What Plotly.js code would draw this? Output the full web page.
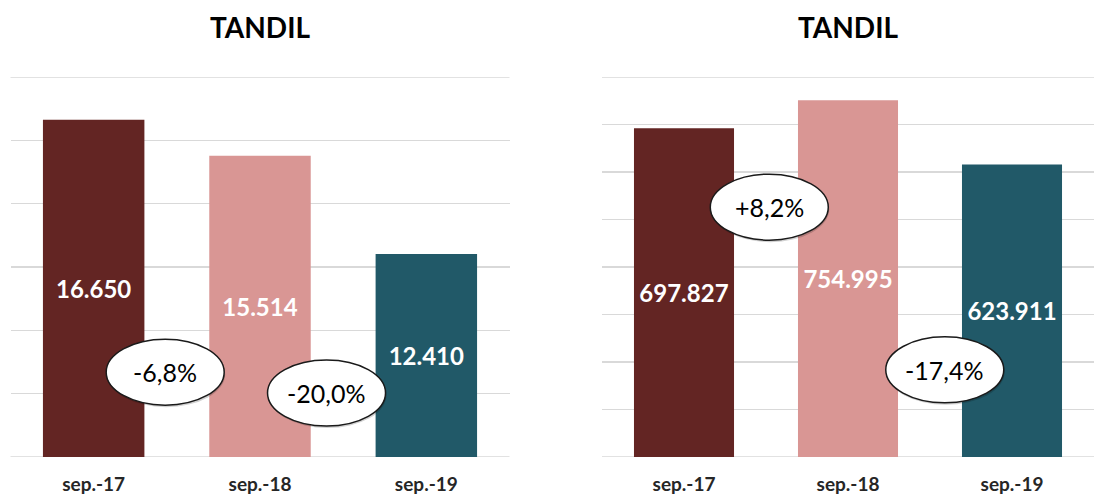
<!DOCTYPE html>
<html>
<head>
<meta charset="utf-8">
<script src="https://cdn.plot.ly/plotly-3.0.1.min.js"></script>
<style>html,body{margin:0;padding:0;background:#fff;}#chart{width:1096px;height:502px;}</style>
</head>
<body>
<div id="chart"></div>
<script>
// ---- data ----
const categories = ['sep.-17', 'sep.-18', 'sep.-19'];
const leftTitle = 'TANDIL';
const rightTitle = 'TANDIL';
const leftValues = [16650, 15514, 12410];
const rightValues = [697827, 754995, 623911];
const leftChanges = ['-6,8%', '-20,0%'];
const rightChanges = ['+8,2%', '-17,4%'];

// ---- axes (as in the reference: not starting at zero) ----
const leftAxis = {min: 6000, max: 18000, step: 2000};
const rightAxis = {min: 27220, max: 802500, step: 96910};

// ---- style ----
const barColors = ['#632523', '#D99694', '#215968'];
const FONT = 'Lato, "Open Sans", sans-serif';
const GRID = '#d9d9d9';
const W = 1096;

// bubble placement (category position, value)
const leftBubbleX = [0.43, 1.40];
const leftBubbleY = [8680, 8020];
const rightBubbleX = [0.52, 1.59];
const rightBubbleY = [537000, 205000];

const fmt = v => String(v).replace(/\B(?=(\d{3})+(?!\d))/g, '.');

function barTrace(values, axis, xa, ya) {
  return {
    type: 'bar', x: categories, y: values.map(v => v - axis.min), base: axis.min,
    xaxis: xa, yaxis: ya,
    marker: {color: barColors, line: {width: 0}},
    text: values.map(fmt), textposition: 'inside', insidetextanchor: 'middle',
    textangle: 0, constraintext: 'none',
    insidetextfont: {family: FONT, size: 24, color: '#ffffff', weight: 'bold'},
    hoverinfo: 'skip', showlegend: false
  };
}

const data = [barTrace(leftValues, leftAxis, 'x', 'y'), barTrace(rightValues, rightAxis, 'x2', 'y2')];

const shapes = [];
const annotations = [];

// edge gridlines (top and baseline) that plotly omits at the range ends
[[leftAxis, 'x domain', 'y'], [rightAxis, 'x2 domain', 'y2']].forEach(([a, xr, yr]) => {
  [a.min, a.max].forEach(v => shapes.push({type: 'line', xref: xr, yref: yr, x0: 0, x1: 1, y0: v, y1: v,
    line: {color: GRID, width: 1.3}, layer: 'below'}));
});

function bubbles(labels, xs, ys, xr, yr) {
  labels.forEach((t, i) => {
    shapes.push({type: 'circle', xref: xr, yref: yr, xsizemode: 'pixel', ysizemode: 'pixel',
      xanchor: xs[i], yanchor: ys[i], x0: -58, x1: 60, y0: -35, y1: 31,
      fillcolor: 'rgba(0,0,0,0.18)', line: {width: 0}, layer: 'above'});
    shapes.push({type: 'circle', xref: xr, yref: yr, xsizemode: 'pixel', ysizemode: 'pixel',
      xanchor: xs[i], yanchor: ys[i], x0: -59, x1: 59, y0: -33, y1: 33,
      fillcolor: '#ffffff', line: {color: '#1a1a1a', width: 1.5}, layer: 'above'});
    annotations.push({xref: xr, yref: yr, x: xs[i], y: ys[i], text: t, showarrow: false,
      font: {family: FONT, size: 25, color: '#000000'}, xanchor: 'center', yanchor: 'middle'});
  });
}
bubbles(leftChanges, leftBubbleX, leftBubbleY, 'x', 'y');
bubbles(rightChanges, rightBubbleX, rightBubbleY, 'x2', 'y2');

annotations.push({xref: 'x domain', yref: 'y domain', x: 0.5, y: 1, yshift: 50, text: '<b>' + leftTitle + '</b>',
  showarrow: false, xanchor: 'center', yanchor: 'middle', font: {family: FONT, size: 28, color: '#000'}});
annotations.push({xref: 'x2 domain', yref: 'y2 domain', x: 0.5, y: 1, yshift: 50, text: '<b>' + rightTitle + '</b>',
  showarrow: false, xanchor: 'center', yanchor: 'middle', font: {family: FONT, size: 28, color: '#000'}});

const xCommon = {type: 'category', showgrid: false, zeroline: false, showline: false, ticks: '',
  tickfont: {family: FONT, size: 19, color: '#262626', weight: 'bold'}, ticklabelstandoff: 14, fixedrange: true};
const yCommon = {showgrid: true, gridcolor: GRID, gridwidth: 1.3, zeroline: false, showline: false,
  showticklabels: false, ticks: '', fixedrange: true};

function yRange(a) {
  return {range: [a.min, a.max], tick0: a.min, dtick: a.step, tickmode: 'linear'};
}

const layout = {
  width: W, height: 502,
  margin: {l: 0, r: 0, t: 77, b: 45, pad: 0},
  paper_bgcolor: '#ffffff', plot_bgcolor: '#ffffff',
  bargap: 0.39,
  xaxis: Object.assign({}, xCommon, {domain: [10.5 / W, 509.5 / W], anchor: 'y'}),
  xaxis2: Object.assign({}, xCommon, {domain: [602 / W, 1094 / W], anchor: 'y2'}),
  yaxis: Object.assign({}, yCommon, {domain: [0, 1], anchor: 'x'}, yRange(leftAxis)),
  yaxis2: Object.assign({}, yCommon, {domain: [0, 1], anchor: 'x2'}, yRange(rightAxis)),
  shapes: shapes,
  annotations: annotations,
  font: {family: FONT}
};

Plotly.newPlot('chart', data, layout, {displayModeBar: false, staticPlot: true});
</script>
</body>
</html>
